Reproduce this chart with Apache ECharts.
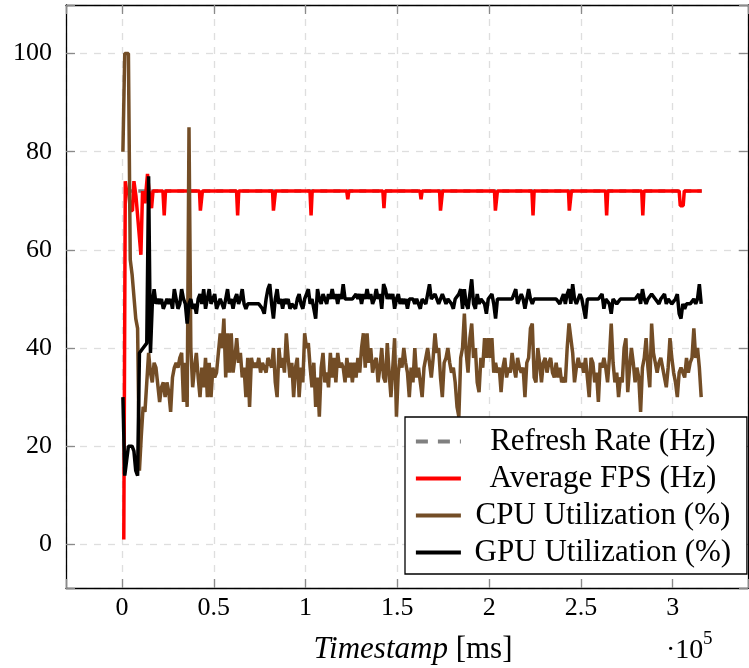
<!DOCTYPE html>
<html><head><meta charset="utf-8">
<script src="https://cdn.jsdelivr.net/npm/echarts@6/dist/echarts.min.js"></script>
<style>html,body{margin:0;padding:0;background:#fff}#c{width:749px;height:668px}</style>
</head><body><div id="c"></div>
<script>
const SAMPLE_START_MS = 500;
const SAMPLE_STEP_MS = 1000;

const cpuUtil = [
80,100,100,100,58,55,55,46,44,15,22,28,27,27,39,35,33,37,36,36,
29,32,33,30,33,31,27,34,36,37,36,38,39,29,37,28,85,40,32,36,
39,34,30,36,32,38,30,37,30,36,34,35,39,43,40,46,34,43,35,43,
35,38,42,37,39,34,36,30,38,28,38,36,37,36,38,35,37,36,35,38,
37,36,40,33,30,40,36,38,35,43,38,34,37,30,36,38,30,36,33,43,
40,41,36,32,37,28,34,26,36,39,33,35,32,39,34,38,33,39,36,37,
36,33,38,34,37,33,37,34,38,35,40,43,36,43,37,40,35,37,38,33,
36,40,34,33,41,35,30,36,42,26,35,38,36,40,37,35,30,36,33,40,
34,36,33,30,36,38,40,37,34,38,43,39,40,34,30,37,38,40,37,35,
36,33,28,26,38,40,47,39,35,42,45,38,40,33,31,38,36,42,38,42,
38,42,35,37,35,36,31,36,38,34,36,35,39,36,34,38,36,35,36,30,
37,38,44,45,34,33,40,37,33,37,38,35,37,38,35,34,37,34,36,33,
34,33,40,45,42,39,33,36,38,36,37,35,38,34,30,38,37,33,35,29,
37,36,38,36,33,38,45,37,33,35,30,34,33,40,42,31,36,40,37,33,
36,34,27,36,38,42,36,32,45,39,37,35,37,38,36,34,32,36,42,38,
35,33,30,35,36,35,34,38,35,37,38,44,38,40,36,30
];

const gpuUtil = [
30,14,17,20,20,20,19,15,14,39,39,40,40,41,75,39,49,52,49,50,
49,50,48,48,50,49,50,48,52,50,48,49,52,50,49,45,49,50,48,49,
47,50,51,49,52,48,50,52,49,50,51,48,49,50,49,48,50,52,49,50,
48,50,51,49,50,52,49,48,49,49,49,49,49,49,49,49,48,47,50,52,
53,49,46,50,52,49,50,48,50,49,50,48,49,49,48,50,51,49,48,50,
51,52,49,50,48,46,52,50,49,51,50,49,51,50,52,50,51,49,51,50,
53,50,50,50,50,50,50,51,50,51,49,51,50,52,50,51,49,50,52,50,
51,48,53,52,50,51,50,51,48,50,51,49,50,49,50,48,50,50,50,49,
50,50,48,50,50,49,51,53,50,50,51,51,49,49,51,50,49,50,50,49,
48,50,50,51,52,48,52,49,48,51,54,49,48,51,49,50,50,49,47,50,
50,51,49,46,50,50,50,50,50,50,50,50,50,51,52,49,49,51,50,48,
50,52,50,49,50,50,50,50,50,50,50,50,50,50,50,50,50,50,49,50,
51,49,51,52,49,53,50,49,50,51,50,50,46,50,50,50,50,50,50,50,
50,51,48,50,50,49,47,50,50,49,49,50,50,50,50,50,50,50,50,50,
50,51,49,52,50,49,50,50,51,51,50,50,49,50,50,51,49,50,50,49,
49,50,51,47,46,49,48,49,49,49,49,50,49,50,53,49
];

const fpsTime = [980,1800,2700,3500,4600,5700,6500,7600,10300,11200,12000,12500,13900,14700,16100,16900,
22300,23000,23700, 42200,42700,43300,43800, 62400,63000,63600, 82000,82500,83100,83600,
102400,103000,103600, 122400,123000,123600, 142100,142700,143300, 162300,162900,163500,
173000,173500,174100,174600, 202900,203400,204000,204500, 223300,223900,224500,
243200,243700,244300,244800, 263400,264000,264600, 283100,283700,284300,
303500,304100,305700,306300, 315800];
const fpsValue = [1,74,71.5,72,68,68,74,71,59,72,72,69.5,75.5,72,68.5,72,
72,67,72, 72,68,68,72, 72,67,72, 72,68,68,72,
72,67,72, 72,70.3,72, 72,68.5,72, 72,70.3,72,
72,68,68,72, 72,68,68,72, 72,67,72,
72,68,68,72, 72,67,72, 72,67,72,
72,69,69,72, 72];

const refreshTime = [1800, 315800];
const refreshValue = [72, 72];

const xTicks = [0, 50000, 100000, 150000, 200000, 250000, 300000];
const yTicks = [0, 20, 40, 60, 80, 100];
const legendNames = ['Refresh Rate (Hz)', 'Average FPS (Hz)', 'CPU Utilization (%)', 'GPU Utilization (%)'];

const FONT = 'Liberation Serif';
const X_MIN = -30500, X_MAX = 341000, Y_MIN = -8.9, Y_MAX = 109.9;

const sampled = arr => arr.map((v, i) => [SAMPLE_START_MS + i * SAMPLE_STEP_MS, v]);
const paired = (t, v) => t.map((x, i) => [x, v[i]]);

const tickStyle = { show: true, inside: true, length: 9, lineStyle: { color: '#8a8a8a', width: 1.3 } };
const frameLine = { show: true, onZero: false, lineStyle: { color: '#000', width: 1.3 } };
const gridLine = { show: true, lineStyle: { color: '#dedede', width: 1.3, type: [7, 7] } };
const LW = 3.5;

const chart = echarts.init(document.getElementById('c'), null, { renderer: 'canvas' });
chart.setOption({
  animation: false,
  backgroundColor: '#fff',
  grid: { left: 66, top: 5, width: 682, height: 583, containLabel: false, outerBoundsMode: 'none' },
  xAxis: [{
    type: 'value', min: X_MIN, max: X_MAX, splitNumber: 7, position: 'bottom',
    axisLine: frameLine, axisTick: tickStyle, splitLine: gridLine,
    axisLabel: { color: '#000', fontFamily: FONT, fontSize: 26, margin: 7,
      formatter: v => xTicks.includes(v) ? String(v / 1e5) : '' },
    name: '{i|Timestamp} [ms]', nameLocation: 'middle', nameGap: 46,
    nameTextStyle: { color: '#000', fontFamily: FONT, fontSize: 31, padding: [0, 0, 0, 12],
      rich: { i: { fontStyle: 'italic', fontFamily: FONT, fontSize: 31, color: '#000' } } }
  }, {
    type: 'value', min: X_MIN, max: X_MAX, splitNumber: 7, position: 'top',
    axisLine: frameLine, axisTick: tickStyle, splitLine: { show: false }, axisLabel: { show: false }
  }],
  yAxis: [{
    type: 'value', min: Y_MIN, max: Y_MAX, splitNumber: 6, position: 'left',
    axisLine: frameLine, axisTick: tickStyle, splitLine: gridLine,
    axisLabel: { color: '#000', fontFamily: FONT, fontSize: 26, margin: 14,
      formatter: v => yTicks.includes(v) ? String(v) : '' }
  }, {
    type: 'value', min: Y_MIN, max: Y_MAX, splitNumber: 6, position: 'right',
    axisLine: frameLine, axisTick: tickStyle, splitLine: { show: false }, axisLabel: { show: false }
  }],
  legend: {
    orient: 'vertical', left: 405, top: 417,
    padding: [9, 7, 6, 9],
    itemWidth: 45, itemHeight: 14, itemGap: 6,
    backgroundColor: '#fff', borderColor: '#000', borderWidth: 1.3, borderRadius: 0,
    itemStyle: { opacity: 0 },
    lineStyle: { width: 3.8 },
    textStyle: { color: '#000', fontFamily: FONT, fontSize: 31,
      rich: { c: { width: 274, align: 'center', fontFamily: FONT, fontSize: 31, lineHeight: 30, color: '#000' } } },
    formatter: n => '{c|' + n + '}',
    data: [
      { name: legendNames[0], lineStyle: { width: 3.8, type: [12, 10] } },
      legendNames[1], legendNames[2], legendNames[3]
    ]
  },
  graphic: [
    { type: 'text', left: 666, top: 637, style: { text: '·10', fontFamily: FONT, fontSize: 28, fill: '#000' } },
    { type: 'text', left: 703, top: 630, style: { text: '5', fontFamily: FONT, fontSize: 19, fill: '#000' } }
  ],
  series: [
    { name: legendNames[0], type: 'line', symbol: 'none', data: paired(refreshTime, refreshValue),
      lineStyle: { color: '#808080', width: LW, type: [7, 6] }, itemStyle: { color: '#808080' } },
    { name: legendNames[1], type: 'line', symbol: 'none', data: paired(fpsTime, fpsValue),
      lineStyle: { color: '#ff0000', width: LW }, itemStyle: { color: '#ff0000' } },
    { name: legendNames[2], type: 'line', symbol: 'none', data: sampled(cpuUtil),
      lineStyle: { color: '#734d26', width: LW }, itemStyle: { color: '#734d26' } },
    { name: legendNames[3], type: 'line', symbol: 'none', data: sampled(gpuUtil),
      lineStyle: { color: '#000000', width: LW }, itemStyle: { color: '#000000' } }
  ]
});
</script>
</body></html>
